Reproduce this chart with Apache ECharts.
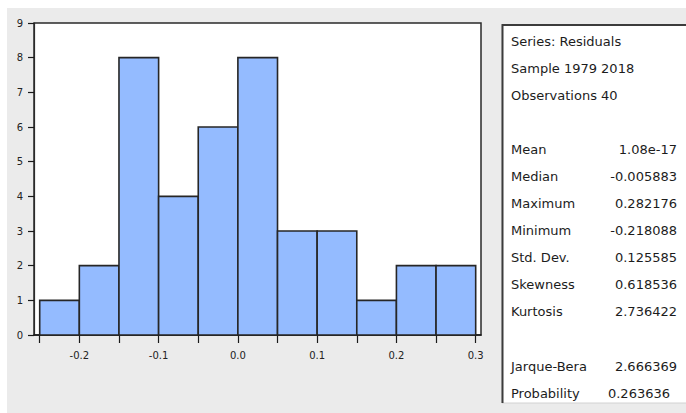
<!DOCTYPE html>
<html>
<head>
<meta charset="utf-8">
<script src="https://cdn.jsdelivr.net/npm/echarts@6/dist/echarts.min.js"></script>
<style>
  html, body { margin: 0; padding: 0; background: #fff; }
  #chart { width: 686px; height: 413px; }
</style>
</head>
<body>
<div id="chart"></div>
<script>
// Histogram of residuals: bin edges and counts
const binEdges = [-0.25, -0.2, -0.15, -0.1, -0.05, 0.0, 0.05, 0.1, 0.15, 0.2, 0.25, 0.3];
const binCounts = [1, 2, 8, 4, 6, 8, 3, 3, 1, 2, 2];
const xTickLabels = [-0.2, -0.1, 0.0, 0.1, 0.2, 0.3];
const yTickLabels = [0, 1, 2, 3, 4, 5, 6, 7, 8, 9];

// Descriptive statistics panel
const statHeader = ['Series: Residuals', 'Sample 1979 2018', 'Observations 40'];
const statNames = ['Mean', 'Median', 'Maximum', 'Minimum', 'Std. Dev.', 'Skewness', 'Kurtosis'];
const statValues = ['1.08e-17', '-0.005883', '0.282176', '-0.218088', '0.125585', '0.618536', '2.736422'];
const testNames = ['Jarque-Bera', 'Probability'];
const testValues = ['2.666369', '0.263636'];

const binData = binCounts.map((c, i) => [binEdges[i], binEdges[i + 1], c]);

const FONT = '"DejaVu Sans", Verdana, sans-serif';
const panelFont = '13px ' + FONT;
const textColor = '#1c1c1c';

const graphics = [
  // grey window background
  { type: 'rect', z: -10, silent: true,
    shape: { x: 7, y: 8, width: 686 - 7, height: 413 - 8 },
    style: { fill: '#ebebeb' } },
  // statistics box
  { type: 'rect', z: -5, silent: true,
    shape: { x: 502, y: 25, width: 200, height: 378 },
    style: { fill: '#ffffff', stroke: '#d2d2d2', lineWidth: 1 } },
  { type: 'line', z: -4, silent: true,
    shape: { x1: 502.5, y1: 24, x2: 502.5, y2: 403 },
    style: { stroke: '#3c3c3c', lineWidth: 2 } },
  { type: 'line', z: -4, silent: true,
    shape: { x1: 502, y1: 25, x2: 686, y2: 25 },
    style: { stroke: '#3c3c3c', lineWidth: 2 } }
];

function addText(str, x, y, align) {
  graphics.push({
    type: 'text', z: 5,
    style: { text: str, x: x, y: y, font: panelFont, fill: textColor,
             textAlign: align, textVerticalAlign: 'middle' }
  });
}

const labelX = 511;
const valueX = 677;
statHeader.forEach((s, i) => addText(s, labelX, 41 + i * 27, 'left'));
statNames.forEach((s, i) => {
  addText(s, labelX, 149 + i * 27, 'left');
  addText(statValues[i], valueX, 149 + i * 27, 'right');
});
testNames.forEach((s, i) => {
  addText(s, labelX, 366 + i * 27, 'left');
  addText(testValues[i], i === 1 ? valueX - 7 : valueX, 366 + i * 27, 'right');
});

const chart = echarts.init(document.getElementById('chart'), null, { renderer: 'svg' });

chart.setOption({
  animation: false,
  backgroundColor: '#ffffff',
  graphic: graphics,
  grid: {
    left: 34, right: 205, top: 23, bottom: 78,
    show: true, backgroundColor: '#ffffff',
    borderColor: '#2a2a2a', borderWidth: 1.5
  },
  xAxis: {
    type: 'value',
    min: -0.2572, max: 0.3067,
    splitLine: { show: false },
    axisLine: { show: true, onZero: false, lineStyle: { color: '#1a1a1a', width: 1.5 } },
    axisTick: { show: true, length: 8, lineStyle: { color: '#1a1a1a', width: 1.2 },
                customValues: binEdges },
    axisLabel: {
      customValues: xTickLabels,
      formatter: v => (Math.abs(v) < 1e-9 ? 0 : v).toFixed(1),
      margin: 15, fontFamily: FONT, fontSize: 10, color: '#222'
    }
  },
  yAxis: {
    type: 'value',
    min: 0, max: 9, interval: 1,
    splitLine: { show: false },
    axisLine: { show: true, onZero: false, lineStyle: { color: '#2a2a2a', width: 1.2 } },
    axisTick: { show: true, length: 6, lineStyle: { color: '#1a1a1a', width: 1.2 } },
    axisLabel: {
      formatter: v => String(yTickLabels[v] !== undefined ? yTickLabels[v] : v),
      margin: 11, fontFamily: FONT, fontSize: 10, color: '#222'
    }
  },
  series: [{
    type: 'custom',
    data: binData,
    encode: { x: [0, 1], y: 2 },
    renderItem: function (params, api) {
      const p0 = api.coord([api.value(0), 0]);
      const p1 = api.coord([api.value(1), api.value(2)]);
      return {
        type: 'rect',
        shape: { x: p0[0], y: p1[1], width: p1[0] - p0[0], height: p0[1] - p1[1] },
        style: { fill: '#94bbff', stroke: '#262626', lineWidth: 1.6 }
      };
    }
  }]
});
</script>
</body>
</html>
